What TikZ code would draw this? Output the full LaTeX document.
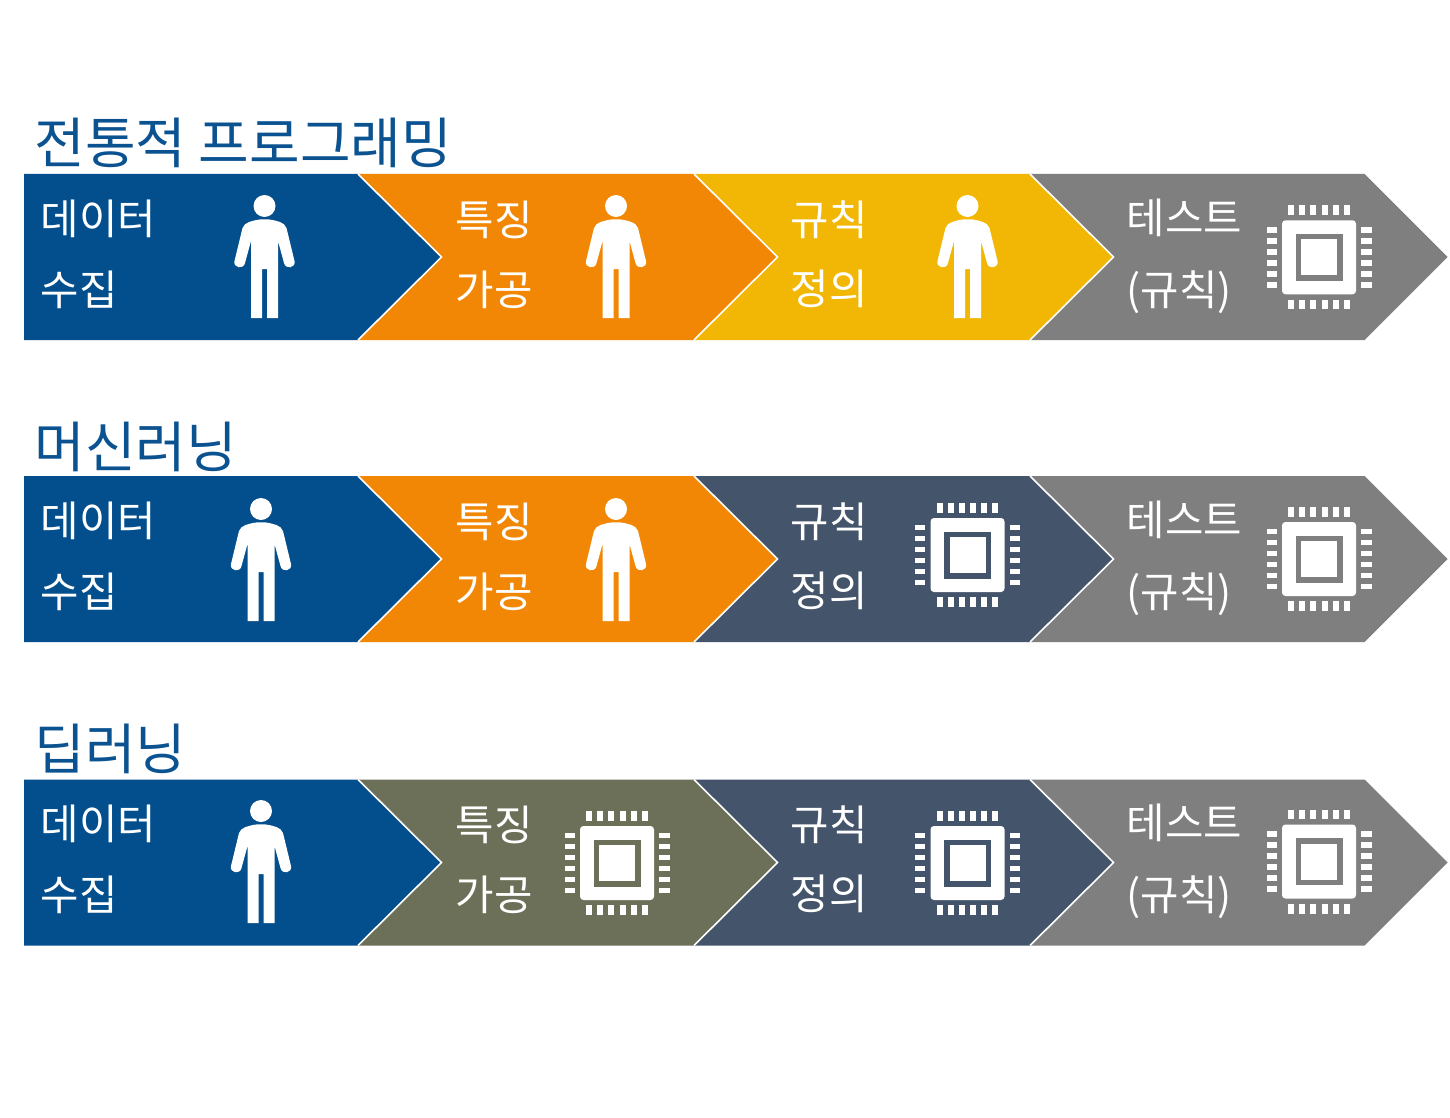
\documentclass[tikz,border=0pt]{standalone}
\usepackage{fontspec}
\newfontfamily\kr{Noto Sans CJK KR}
\definecolor{cblue}{HTML}{034E8C}
\definecolor{corange}{HTML}{F28705}
\definecolor{cyellow}{HTML}{F2B705}
\definecolor{cgray}{HTML}{7F7F7F}
\definecolor{cslate}{HTML}{44546A}
\definecolor{colive}{HTML}{6D7058}
\definecolor{ctitle}{HTML}{0B5290}
\tikzset{
  notch/.style={draw=white,line width=1.6pt,line join=miter},
  lab/.style={anchor=base west,inner sep=0pt,text=white,font=\kr\fontsize{41.8}{42}\selectfont},
  ttl/.style={anchor=base west,inner sep=0pt,text=ctitle,font=\kr\fontsize{55}{55}\selectfont},
  pics/person/.style={code={
    \fill[white] (0,-51) circle (11);
    \fill[white] (-8,-37) .. controls (-4,-38) and (4,-38) .. (8,-37)
      .. controls (12,-36) and (20,-35) .. (22,-29)
      -- (30,4) .. controls (31.5,11) and (21,13) .. (19.5,6)
      -- (13.5,-16) -- (13.5,61) -- (2.5,61) -- (2.5,12) -- (-2.5,12) -- (-2.5,61) -- (-13.5,61) -- (-13.5,-16)
      -- (-19.5,6) .. controls (-21,13) and (-31.5,11) .. (-30,4)
      -- (-22,-29) .. controls (-20,-35) and (-12,-36) .. (-8,-37) -- cycle;
  }},
  pics/chip/.style={code={
    \fill[white,rounded corners=3.5] (-37,-37) rectangle (37,37);
    \fill[#1] (-23.5,-23.5) rectangle (23.5,23.5);
    \fill[white] (-18,-18) rectangle (18,18);
    \foreach \k in {-2.5,-1.5,-0.5,0.5,1.5,2.5}{
      \fill[white] ({\k*11.05-3},-52) rectangle ({\k*11.05+3},-42.3);
      \fill[white] ({\k*11.05-3},42.3) rectangle ({\k*11.05+3},52);
      \fill[white] (-52.5,{\k*11-2.9}) rectangle (-42.3,{\k*11+2.9});
      \fill[white] (42.3,{\k*11-2.9}) rectangle (52.5,{\k*11+2.9});
    }
  }},
}
\newcommand{\chevrow}[5]{% top, colours
  \fill[#5] (1030,#1) -- (1364.5,#1) -- (1447.5,#1+83) -- (1364.5,#1+166) -- (1030,#1+166) -- (1113.5,#1+83) -- cycle;
  \fill[#4] (694,#1) -- (1030,#1) -- (1113.5,#1+83) -- (1030,#1+166) -- (694,#1+166) -- (777.5,#1+83) -- cycle;
  \fill[#3] (358,#1) -- (694,#1) -- (777.5,#1+83) -- (694,#1+166) -- (358,#1+166) -- (441.5,#1+83) -- cycle;
  \fill[#2] (24,#1) -- (358,#1) -- (441.5,#1+83) -- (358,#1+166) -- (24,#1+166) -- cycle;
  \draw[notch] (358,#1) -- (441.5,#1+83) -- (358,#1+166);
  \draw[notch] (694,#1) -- (777.5,#1+83) -- (694,#1+166);
  \draw[notch] (1030,#1) -- (1113.5,#1+83) -- (1030,#1+166);
}
\newcommand{\labels}[1]{% y of first baseline
  \node[lab] (a1#1) at (40.5,#1+1) {데이터};
  \node[lab] (a2#1) at (40.5,#1+72) {수집};
  \node[lab] (b1#1) at (455.5,#1+2.5) {특징};
  \node[lab] (b2#1) at (455.5,#1+72) {가공};
  \node[lab] (c1#1) at (790.5,#1+2.5) {규칙};
  \node[lab] (c2#1) at (790.5,#1+71) {정의};
  \node[lab] (d1#1) at (1126.5,#1+0.5) {테스트};
  \node[lab] (d2#1) at (1126.5,#1+72) {(규칙)};
}
\begin{document}
\begin{tikzpicture}[x=1pt,y=-1pt]
\useasboundingbox (0,0) rectangle (1450,1118);
\fill[white] (0,0) rectangle (1450,1118);
\node[ttl] (t1) at (34.5,164) {전통적 프로그래밍};
\node[ttl] (t2) at (34.5,467) {머신러닝};
\node[ttl] (t3) at (34.5,769) {딥러닝};
\chevrow{174}{cblue}{corange}{cyellow}{cgray}
\chevrow{476}{cblue}{corange}{cslate}{cgray}
\chevrow{779.5}{cblue}{colive}{cslate}{cgray}
\labels{233}
\labels{535}
\labels{838}
\pic at (264.5,257) {person};
\pic at (616,257) {person};
\pic at (967.5,257) {person};
\pic at (1319,257.3) {chip=cgray};
\pic at (261,560) {person};
\pic at (616,560) {person};
\pic at (967.5,555) {chip=cslate};
\pic at (1319,559) {chip=cgray};
\pic at (261,862) {person};
\pic at (617,863) {chip=colive};
\pic at (967.5,863) {chip=cslate};
\pic at (1319,861.5) {chip=cgray};
\end{tikzpicture}
\end{document}
